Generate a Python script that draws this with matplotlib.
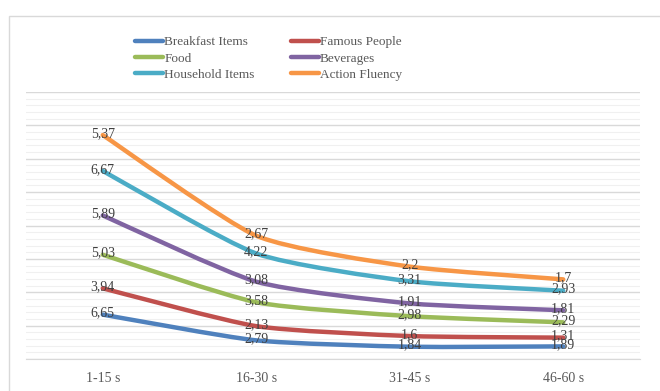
import numpy as np
import matplotlib.pyplot as plt
from matplotlib.path import Path
from matplotlib.patches import PathPatch, Rectangle
from matplotlib.lines import Line2D
from matplotlib.ticker import MultipleLocator

categories = ['1-15 s', '16-30 s', '31-45 s', '46-60 s']
series_names = ['Breakfast Items', 'Famous People', 'Food', 'Beverages',
                'Household Items', 'Action Fluency']
breakfast = [6.65, 2.79, 1.84, 1.89]
famous = [3.94, 2.13, 1.6, 1.31]
food = [5.03, 3.58, 2.98, 2.29]
beverages = [5.89, 3.08, 1.91, 1.81]
household = [6.67, 4.22, 3.31, 2.93]
action = [5.37, 2.67, 2.2, 1.7]
colors = ['#4F81BD', '#C0504D', '#9BBB59', '#8064A2', '#4BACC6', '#F79646']

values = np.array([breakfast, famous, food, beverages, household, action])
stacked = np.cumsum(values, axis=0)

plt.rcParams['font.family'] = ['Liberation Serif', 'DejaVu Serif']
txt = '#595959'


def smooth_path(xs, ys, k=10):
    # excel style smoothed line: bezier segments through the points
    pts = np.column_stack([xs, ys])
    ext = np.vstack([pts[0], pts, pts[-1]])
    verts = [pts[0]]
    codes = [Path.MOVETO]
    for i in range(len(pts) - 1):
        p0, p1, p2, p3 = ext[i], ext[i + 1], ext[i + 2], ext[i + 3]
        verts += [p1 + (p2 - p0) / k, p2 - (p3 - p1) / k, p2]
        codes += [Path.CURVE4] * 3
    return Path(verts, codes)


fig = plt.figure(figsize=(6.6, 3.91), dpi=100)
fig.patches.append(Rectangle((9 / 660, -0.1), 1.2, 1.1 - 16 / 391,
                             transform=fig.transFigure, fill=False,
                             edgecolor='#D9D9D9', lw=1.0))
ax = fig.add_axes([26 / 660, 1 - 359 / 391, 614 / 660, 267 / 391])

x = np.arange(len(categories))
handles = []
for i, name in enumerate(series_names):
    patch = PathPatch(smooth_path(x, stacked[i]), fill=False,
                      edgecolor=colors[i], lw=3.2, capstyle='round',
                      joinstyle='round', zorder=3)
    ax.add_patch(patch)
    handles.append(Line2D([], [], color=colors[i], lw=3.2,
                          solid_capstyle='round', label=name))
    for xi, yi, v in zip(x, stacked[i], values[i]):
        ax.text(xi, yi + 0.25, f'{v:g}'.replace('.', ','), ha='center',
                va='center', fontsize=10, color='#404040', zorder=4)

ax.set_xlim(-0.5, 3.5)
ax.set_ylim(0, 40)
ax.yaxis.set_major_locator(MultipleLocator(5))
ax.yaxis.set_minor_locator(MultipleLocator(1))
ax.grid(which='major', axis='y', color='#D9D9D9', lw=1.0)
ax.grid(which='minor', axis='y', color='#F0F0F0', lw=0.8)
ax.set_axisbelow(True)
for s in ['top', 'right', 'left']:
    ax.spines[s].set_visible(False)
ax.spines['bottom'].set_color('#D9D9D9')
ax.set_xticks(x)
ax.set_xticklabels(categories, fontsize=10, color=txt)
ax.tick_params(axis='x', length=0, pad=9)
ax.tick_params(axis='y', which='both', length=0, labelleft=False)

order = [0, 2, 4, 1, 3, 5]
fig.legend([handles[i] for i in order], [series_names[i] for i in order],
           ncol=2, loc='upper left', bbox_to_anchor=(126 / 660, 1 - 27 / 391),
           frameon=False, fontsize=9.5, labelcolor=txt, handlelength=2.1,
           handletextpad=0.1, labelspacing=0.3, columnspacing=2.75,
           borderpad=0.2)

fig.savefig('out.png', dpi=100)
